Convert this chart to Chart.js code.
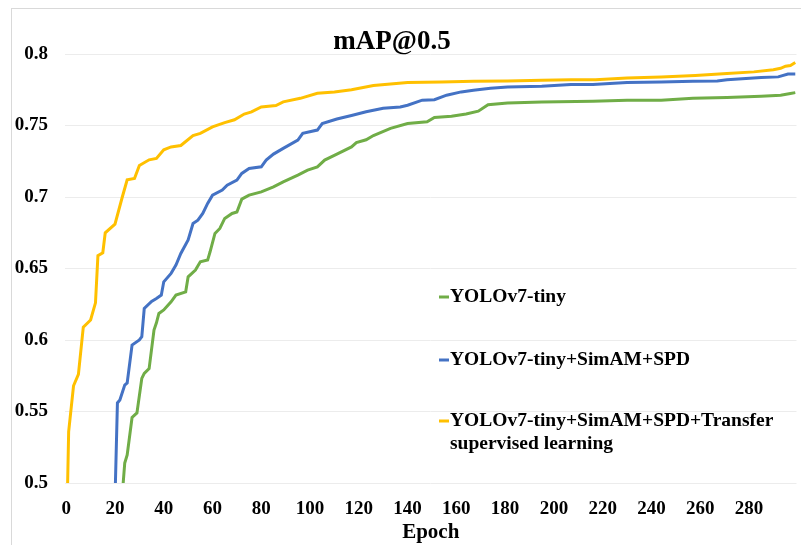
<!DOCTYPE html>
<html>
<head>
<meta charset="utf-8">
<script src="https://cdn.jsdelivr.net/npm/chart.js@4.4.0/dist/chart.umd.min.js"></script>
<style>
  html, body { margin: 0; padding: 0; background: #fff; overflow: hidden; }
  #wrap { position: relative; width: 801px; height: 545px; }
  #frame { position: absolute; left: 11px; top: 8px; width: 900px; height: 700px; border: 1.5px solid #d9d9d9; }
  #c { position: absolute; left: 0; top: 0; }
</style>
</head>
<body>
<div id="wrap">
  <div id="frame"></div>
  <canvas id="c" width="801" height="545"></canvas>
</div>
<script>
const chartTitle = 'mAP@0.5';
const xTitle = 'Epoch';
const seriesNames = ['YOLOv7-tiny', 'YOLOv7-tiny+SimAM+SPD', 'YOLOv7-tiny+SimAM+SPD+Transfer supervised learning'];
const seriesColors = ['#70ad47', '#4472c4', '#ffc000'];

const xTicks = [0, 20, 40, 60, 80, 100, 120, 140, 160, 180, 200, 220, 240, 260, 280];
const yTicks = [0.5, 0.55, 0.6, 0.65, 0.7, 0.75, 0.8];
const yTickLabels = ['0.5', '0.55', '0.6', '0.65', '0.7', '0.75', '0.8'];

// YOLOv7-tiny
const tinyEpochs = [22, 24, 25, 27, 29, 31, 32, 34, 36, 37, 38, 40, 43, 45, 49, 50, 53, 55, 58, 59, 61, 63, 65, 68, 70, 72, 75, 80, 85, 89, 95, 99, 103, 106, 111, 117, 119, 123, 126, 133, 140, 148, 151, 158, 164, 169, 173, 181, 195, 216, 230, 244, 257, 271, 285, 293, 297, 299];
const tinyMap = [0.47, 0.514, 0.5196, 0.5458, 0.549, 0.5732, 0.5767, 0.580, 0.607, 0.612, 0.6186, 0.621, 0.6267, 0.6314, 0.6337, 0.6442, 0.6489, 0.6547, 0.6559, 0.6617, 0.6745, 0.678, 0.685, 0.6885, 0.6895, 0.6985, 0.7013, 0.7036, 0.7071, 0.7106, 0.7153, 0.7188, 0.7211, 0.7258, 0.730, 0.735, 0.738, 0.740, 0.743, 0.748, 0.7514, 0.7526, 0.7556, 0.7565, 0.758, 0.760, 0.7645, 0.7658, 0.7665, 0.767, 0.7677, 0.7677, 0.769, 0.7696, 0.7705, 0.7712, 0.7724, 0.773];

// YOLOv7-tiny+SimAM+SPD
const spdEpochs = [19, 21, 22, 24, 25, 27, 30, 31, 32, 35, 37, 39, 40, 43, 45, 47, 50, 52, 54, 56, 58, 60, 64, 66, 70, 72, 75, 80, 82, 85, 89, 95, 97, 103, 105, 111, 117, 123, 130, 137, 140, 146, 151, 156, 162, 167, 174, 181, 195, 207, 216, 230, 244, 257, 267, 271, 285, 292, 296, 299];
const spdMap = [0.42, 0.556, 0.558, 0.5685, 0.570, 0.5965, 0.600, 0.6023, 0.622, 0.627, 0.629, 0.6314, 0.6407, 0.6466, 0.6524, 0.6605, 0.670, 0.6815, 0.6838, 0.6885, 0.6955, 0.7013, 0.7048, 0.7083, 0.7118, 0.7165, 0.720, 0.7211, 0.7258, 0.730, 0.734, 0.7398, 0.7445, 0.7468, 0.7514, 0.7545, 0.757, 0.7596, 0.762, 0.763, 0.7642, 0.7677, 0.768, 0.7712, 0.7735, 0.7747, 0.776, 0.777, 0.7775, 0.7787, 0.7787, 0.780, 0.7805, 0.781, 0.7812, 0.782, 0.7836, 0.784, 0.786, 0.786];

// YOLOv7-tiny+SimAM+SPD+Transfer supervised learning
const tslEpochs = [0, 1, 3, 5, 7, 10, 12, 13, 15, 16, 20, 23, 25, 28, 30, 34, 37, 40, 43, 47, 52, 55, 60, 65, 69, 73, 76, 80, 86, 89, 96, 103, 110, 117, 126, 140, 154, 167, 181, 195, 207, 217, 230, 244, 258, 271, 282, 290, 293, 295, 297, 299];
const tslMap = [0.45, 0.536, 0.568, 0.576, 0.609, 0.614, 0.626, 0.659, 0.661, 0.675, 0.681, 0.700, 0.712, 0.713, 0.722, 0.726, 0.727, 0.733, 0.735, 0.736, 0.743, 0.7445, 0.749, 0.752, 0.754, 0.758, 0.7595, 0.763, 0.764, 0.7665, 0.769, 0.7725, 0.7735, 0.775, 0.778, 0.780, 0.7805, 0.781, 0.7812, 0.7817, 0.782, 0.782, 0.7833, 0.784, 0.785, 0.7864, 0.7875, 0.789, 0.790, 0.7915, 0.792, 0.794];

const serif = '"Liberation Serif", "Times New Roman", serif';
const toPoints = (xs, ys) => xs.map((x, i) => ({ x: x, y: ys[i] }));

const overlay = {
  id: 'overlay',
  afterDraw(chart) {
    const { ctx, chartArea } = chart;
    ctx.save();
    ctx.fillStyle = '#000';
    ctx.textBaseline = 'middle';

    // title
    ctx.font = 'bold 27px ' + serif;
    ctx.textAlign = 'center';
    ctx.fillText(chartTitle, 392, 42);

    // legend inside the plot
    ctx.font = 'bold 19.5px ' + serif;
    ctx.textAlign = 'left';
    const x0 = 439, tx = 450;
    const rowY = [297, 360, 421];
    const maxW = chartArea.right - tx;
    chart.data.datasets.forEach((ds, i) => {
      const words = ds.label.split(' ');
      const lines = [];
      let cur = '';
      words.forEach(w => {
        const test = cur ? cur + ' ' + w : w;
        if (cur && ctx.measureText(test).width > maxW) { lines.push(cur); cur = w; }
        else cur = test;
      });
      lines.push(cur);
      ctx.strokeStyle = ds.borderColor;
      ctx.lineWidth = 3;
      ctx.beginPath();
      ctx.moveTo(x0, rowY[i]);
      ctx.lineTo(x0 + 10, rowY[i]);
      ctx.stroke();
      lines.forEach((ln, j) => ctx.fillText(ln, tx, rowY[i] + j * 23));
    });
    ctx.restore();
  }
};

new Chart(document.getElementById('c'), {
  type: 'line',
  data: {
    datasets: [
      { label: seriesNames[0], data: toPoints(tinyEpochs, tinyMap), borderColor: seriesColors[0] },
      { label: seriesNames[1], data: toPoints(spdEpochs, spdMap), borderColor: seriesColors[1] },
      { label: seriesNames[2], data: toPoints(tslEpochs, tslMap), borderColor: seriesColors[2] }
    ]
  },
  options: {
    responsive: false,
    animation: false,
    events: [],
    layout: { padding: { top: 54, left: 0, right: 4.5, bottom: 0 } },
    elements: {
      line: { borderWidth: 3, tension: 0, fill: false },
      point: { radius: 0 }
    },
    plugins: {
      legend: { display: false },
      title: { display: false },
      tooltip: { enabled: false }
    },
    scales: {
      x: {
        type: 'linear',
        min: -0.5,
        max: 299.5,
        afterFit: s => { s.height = 62; },
        afterBuildTicks: s => { s.ticks = xTicks.map(v => ({ value: v })); },
        grid: { display: false },
        border: { display: false },
        ticks: {
          padding: 7,
          color: '#000',
          font: { family: serif, size: 19, weight: 'bold' },
          callback: v => String(v),
          maxRotation: 0
        },
        title: {
          display: true,
          text: xTitle,
          color: '#000',
          font: { family: serif, size: 21, weight: 'bold' },
          padding: { top: 0, bottom: 0 }
        }
      },
      y: {
        min: 0.5,
        max: 0.8,
        afterFit: s => { s.width = 65; },
        afterBuildTicks: s => { s.ticks = yTicks.map(v => ({ value: v })); },
        grid: { color: '#ececec', lineWidth: 1, drawTicks: false },
        border: { display: false },
        ticks: {
          padding: 17,
          color: '#000',
          font: { family: serif, size: 19, weight: 'bold' },
          callback: (v, i) => yTickLabels[i]
        }
      }
    }
  },
  plugins: [overlay]
});
</script>
</body>
</html>
